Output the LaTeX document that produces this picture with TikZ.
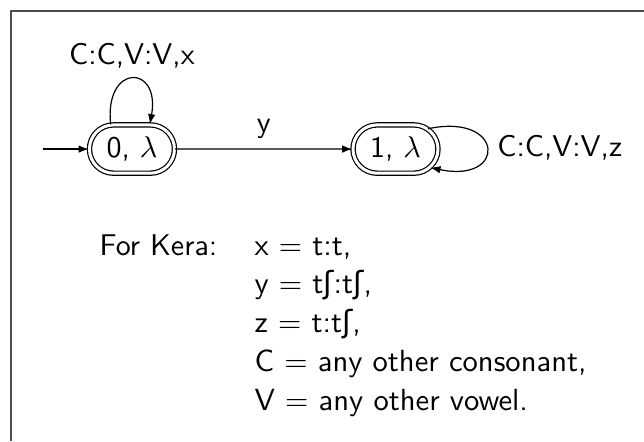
\documentclass[tikz,border=0pt]{standalone}
\usepackage{fontspec}
\usepackage{tikz}
\usetikzlibrary{positioning,shapes.misc,arrows.meta}
\newfontfamily\ipafont{DejaVu Sans}
\newcommand{\esh}{{\ipafont ʃ}}
\renewcommand{\arraystretch}{1.08}

\begin{document}
\begin{tikzpicture}[font=\sffamily, >={Latex[length=3.4pt,width=2.5pt]},
    statebox/.style={rounded rectangle, draw, double, double distance=1pt, line width=0.4pt,
        minimum width=35pt, minimum height=16.1pt},
    note/.style={inner sep=0pt}]
    \useasboundingbox (-1.546,-3.421) rectangle (5.998,1.746);
    \draw[line width=0.45pt, black!70] (-1.418,-3.421) -- (-1.418,1.617) -- (5.998,1.617);
    \node[statebox] (s0) at (0,0) {0, $\lambda$};
    \node[statebox] (s1) at (3.087,0) {1, $\lambda$};
    \coordinate (start) at (-1.043,0);
    \draw[->] (start) -- (s0);
    \draw[->] (s0) -- node[above] {y} (s1);
    \draw[->] ([xshift=-0.25cm]s0.north) .. controls +(96:0.72) and +(80:0.72) .. ([xshift=0.21cm]s0.north)
        node[midway, above] {C:C,V:V,x};
    \draw[->] (s1.32) .. controls +(12:0.92) and +(-12:0.92) .. (s1.-28)
        node[midway, right] {C:C,V:V,z};
    \node[note, anchor=base west] (kera) at (-0.387,-1.242) {For Kera:};
    \node[note, base right=12pt of kera] (defs) {\fontsize{10.2}{12}\selectfont
      \begin{tabular}[t]{@{}l@{}}
        x \(=\) t:t,\\
        y \(=\) t\esh:t\esh,\\
        z \(=\) t:t\esh,\\
        C \(=\) any other consonant,\\
        V \(=\) any other vowel.
    \end{tabular}};
\end{tikzpicture}
\end{document}
